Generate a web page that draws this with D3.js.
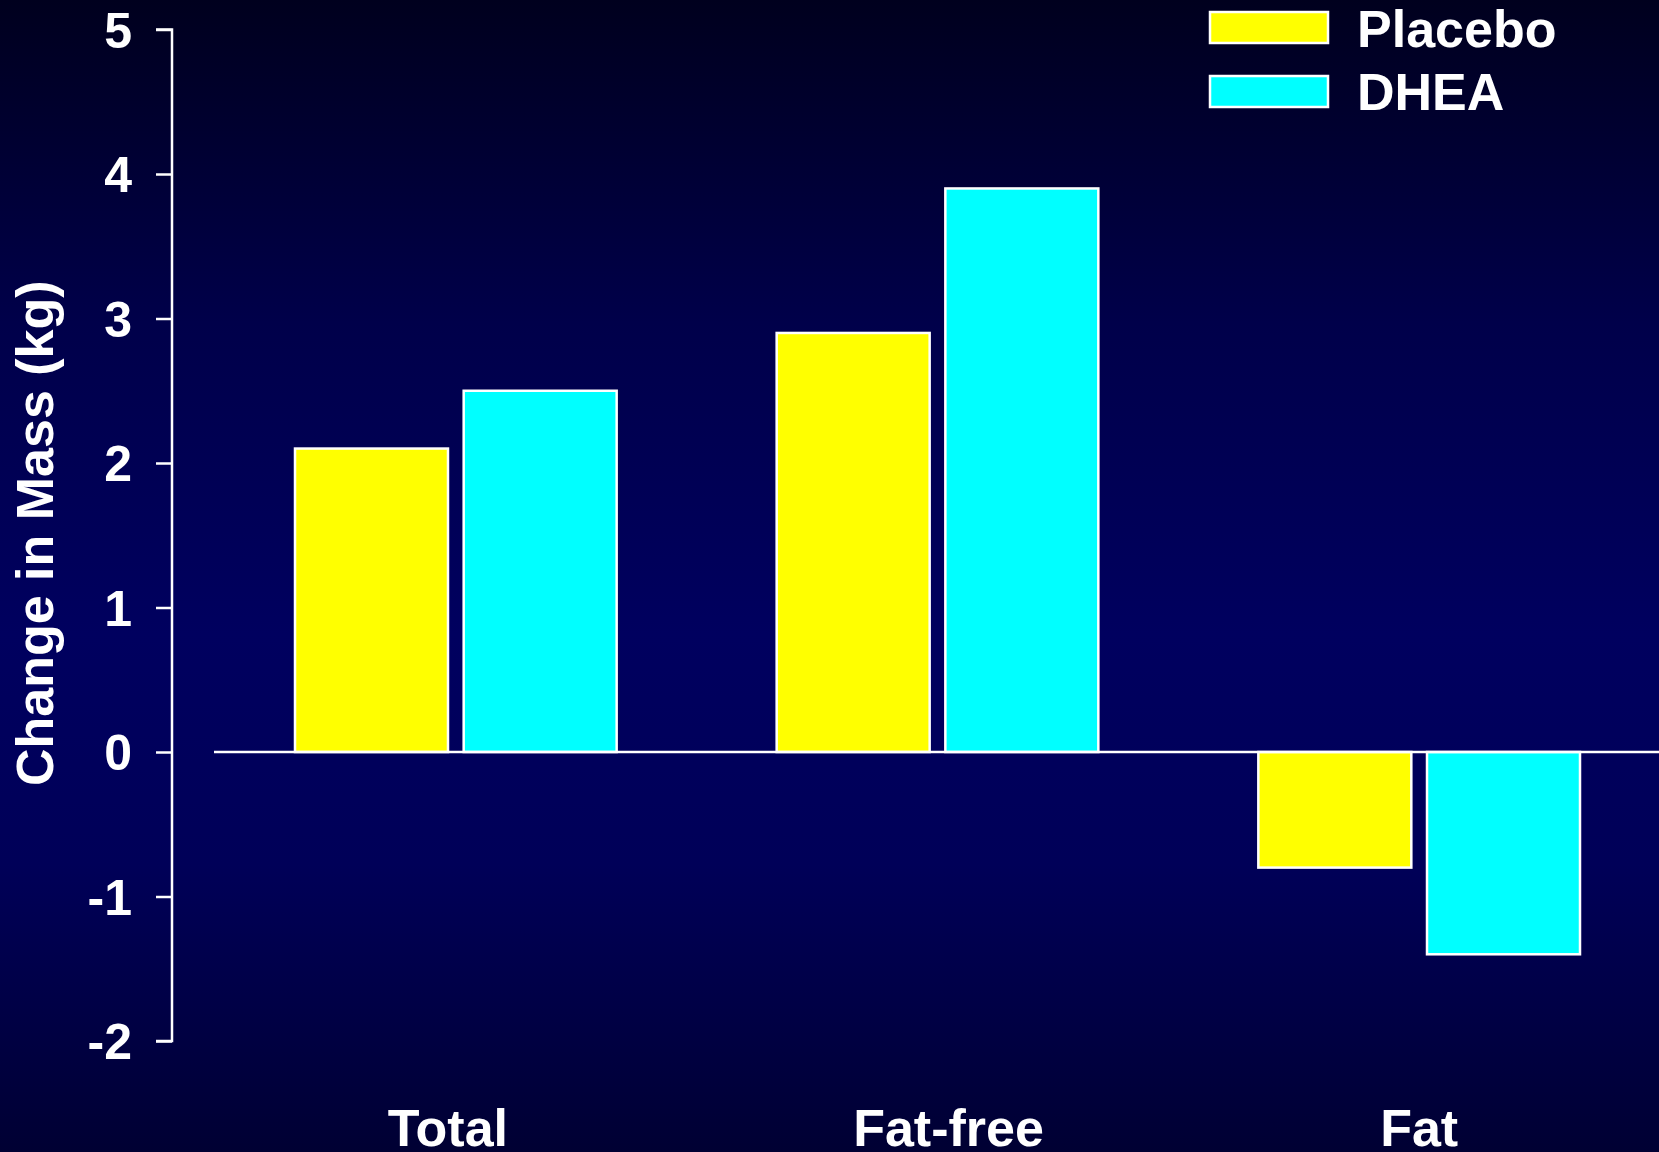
<!DOCTYPE html>
<html>
<head>
<meta charset="utf-8">
<script src="https://cdn.jsdelivr.net/npm/d3@7"></script>
<style>
  html, body { margin: 0; padding: 0; background: #000030; }
  svg { display: block; }
  text { font-family: "Liberation Sans", Arial, sans-serif; font-weight: bold; fill: #ffffff; }
</style>
</head>
<body>
<svg id="chart" width="1659" height="1152"></svg>
<script>
// Body composition change after treatment, by compartment
const categories = ["Total", "Fat-free", "Fat"];
const seriesNames = ["Placebo", "DHEA"];
const placeboValues = [2.1, 2.9, -0.8];
const dheaValues = [2.5, 3.9, -1.4];
const yTicks = [-2, -1, 0, 1, 2, 3, 4, 5];
const yLabel = "Change in Mass (kg)";
const seriesColors = ["#ffff00", "#00ffff"];

// Small horizontal nudges for the category captions
const captionShift = [-8, 11, 0];

const W = 1659, H = 1152;
const svg = d3.select("#chart");

// Background: vertical navy gradient, darker at top and bottom
const defs = svg.append("defs");
const grad = defs.append("linearGradient")
  .attr("id", "bg").attr("x1", 0).attr("y1", 0).attr("x2", 0).attr("y2", 1);
[[0, "#00001e"], [0.28, "#00004a"], [0.55, "#00005f"], [0.75, "#000058"], [1, "#000033"]]
  .forEach(([o, c]) => grad.append("stop").attr("offset", o).attr("stop-color", c));
svg.append("rect").attr("width", W).attr("height", H).attr("fill", "url(#bg)");

// Scales
const y = d3.scaleLinear().domain([-2, 5]).range([1041, 29.5]);
const x0 = d3.scaleBand().domain(categories).range([215, 1660]).padding(0);
const groupPad = 80;
const x1 = d3.scaleBand().domain(seriesNames)
  .range([groupPad, x0.bandwidth() - groupPad])
  .paddingInner(0.093).paddingOuter(0);

const rows = categories.map((c, i) => ({
  category: c,
  values: [
    { series: seriesNames[0], value: placeboValues[i], color: seriesColors[0] },
    { series: seriesNames[1], value: dheaValues[i], color: seriesColors[1] }
  ]
}));

// Y axis (plain hyphen for negative numbers)
const yAxis = d3.axisLeft(y).tickValues(yTicks).tickSize(16).tickPadding(24)
  .tickFormat(d => String(d));
const axisX = 172;
const gy = svg.append("g").attr("transform", `translate(${axisX},0)`).call(yAxis);
gy.select(".domain").attr("stroke", "#ffffff").attr("stroke-width", 2.5)
  .attr("d", `M-16,${y(5)}H0V${y(-2)}H-16`);
gy.selectAll(".tick line").attr("stroke", "#ffffff").attr("stroke-width", 2.5);
gy.selectAll(".tick text")
  .attr("fill", "#ffffff")
  .style("font-size", "50px")
  .style("font-family", "'Liberation Sans', Arial, sans-serif")
  .style("font-weight", "bold")
  .attr("dy", "0.35em");

// Y axis title
svg.append("text")
  .attr("transform", `translate(53,${(y(5) + y(-2)) / 2 - 2}) rotate(-90)`)
  .attr("text-anchor", "middle")
  .style("font-size", "52px")
  .text(yLabel);

// Bars
const groups = svg.append("g").selectAll("g").data(rows).join("g")
  .attr("transform", d => `translate(${x0(d.category)},0)`);
groups.selectAll("rect").data(d => d.values).join("rect")
  .attr("x", d => x1(d.series))
  .attr("width", x1.bandwidth())
  .attr("y", d => y(Math.max(0, d.value)))
  .attr("height", d => Math.abs(y(d.value) - y(0)))
  .attr("fill", d => d.color)
  .attr("stroke", "#ffffff")
  .attr("stroke-width", 2.5);

// Zero baseline
svg.append("line")
  .attr("x1", 214).attr("x2", W)
  .attr("y1", y(0)).attr("y2", y(0))
  .attr("stroke", "#ffffff").attr("stroke-width", 2.5);

// Category labels
svg.append("g").selectAll("text").data(categories).join("text")
  .attr("x", (d, i) => x0(d) + x0.bandwidth() / 2 + captionShift[i])
  .attr("y", 1146)
  .attr("text-anchor", "middle")
  .style("font-size", "52px")
  .text(d => d);

// Legend
const legend = svg.append("g").attr("transform", "translate(1210,0)");
const legendRows = [
  { name: seriesNames[0], color: seriesColors[0], top: 12, base: 47 },
  { name: seriesNames[1], color: seriesColors[1], top: 76, base: 110 }
];
legend.selectAll("rect").data(legendRows).join("rect")
  .attr("x", 0).attr("y", d => d.top)
  .attr("width", 118).attr("height", 31)
  .attr("fill", d => d.color)
  .attr("stroke", "#ffffff").attr("stroke-width", 2.5);
legend.selectAll("text").data(legendRows).join("text")
  .attr("x", 147).attr("y", d => d.base)
  .style("font-size", "52px")
  .text(d => d.name);
</script>
</body>
</html>
